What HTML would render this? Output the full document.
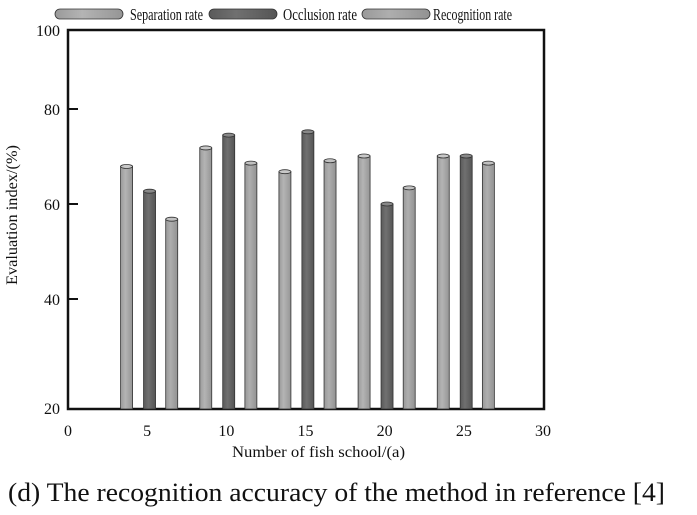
<!DOCTYPE html>
<html><head><meta charset="utf-8"><style>
body{margin:0;background:#fff;width:697px;height:510px;overflow:hidden}
svg text{font-family:"Liberation Serif",serif;fill:#111}
</style></head><body>
<svg id="chart" width="697" height="510">
<defs>
<linearGradient id="gl" x1="0" x2="1"><stop offset="0" stop-color="#9a9a9a"/><stop offset="0.4" stop-color="#b4b4b4"/><stop offset="1" stop-color="#959595"/></linearGradient>
<linearGradient id="gd" x1="0" x2="1"><stop offset="0" stop-color="#5a5a5a"/><stop offset="0.4" stop-color="#707070"/><stop offset="1" stop-color="#555"/></linearGradient>
<linearGradient id="gr" x1="0" x2="1"><stop offset="0" stop-color="#999"/><stop offset="0.4" stop-color="#aeaeae"/><stop offset="1" stop-color="#929292"/></linearGradient>
</defs>
<g id="legend"></g>
<g id="axes"></g>
<g id="bars"></g>
<text x="8" y="501" font-size="26" textLength="657" lengthAdjust="spacingAndGlyphs">(d) The recognition accuracy of the method in reference [4]</text>
</svg>
<script>
const categories=[5,10,15,20,25];
const separation=[67.9,71.8,66.8,70.1,70.1];
const occlusion=[62.7,74.5,75.2,60.0,70.1];
const recognition=[56.8,68.6,69.1,63.4,68.6];
const xTicks=[0,5,10,15,20,25,30];
const yTicks=[40,60,80];
const seriesNames=["Separation rate","Occlusion rate","Recognition rate"];
const NS="http://www.w3.org/2000/svg";
function X(v){return 68+v*(475/30);}
function Y(v){return 299-(v-40)*4.75;}
const base=409;
function mk(tag,attrs,parent,text){const e=document.createElementNS(NS,tag);for(const k in attrs)e.setAttribute(k,attrs[k]);if(text!==undefined)e.textContent=text;parent.appendChild(e);return e;}
const axes=document.getElementById('axes'),bars=document.getElementById('bars'),leg=document.getElementById('legend');
const box=mk('rect',{x:68,y:30,width:476,height:379,fill:'none',stroke:'#111','stroke-width':2.5},axes);


yTicks.forEach(v=>{
 const t=mk('line',{x1:68,x2:78,y1:Y(v),y2:Y(v),stroke:'#111','stroke-width':2},axes);
 
 
 const l=mk('text',{x:60,y:Y(v)+6,'text-anchor':'end','font-size':16},axes,String(v));
 
 
});
const l100=mk('text',{x:60,y:36,'text-anchor':'end','font-size':16},axes,'100');


const l20=mk('text',{x:60,y:414,'text-anchor':'end','font-size':16},axes,'20');


xTicks.forEach(v=>{
 const l=mk('text',{x:X(v),y:436,'text-anchor':'middle','font-size':16},axes,String(v));
 
 
});
const xt=mk('text',{x:232,y:457,'font-size':16,textLength:173,lengthAdjust:'spacingAndGlyphs'},axes,'Number of fish school/(a)');


const yt=mk('text',{x:0,y:0,'font-size':16,textLength:140,lengthAdjust:'spacingAndGlyphs',transform:'translate(17,285) rotate(-90)'},axes,'Evaluation index/(%)');


const series=[separation,occlusion,recognition];
const fills=['url(#gl)','url(#gd)','url(#gr)'];
const caps=['#c8c8c8','#888','#c0c0c0'];
const offs=[-1.3,0.15,1.55];
const bw=12;
series.forEach((arr,s)=>{
 arr.forEach((v,i)=>{
  const cx=X(categories[i]+offs[s]);
  const y=Y(v);
  const r=mk('rect',{x:cx-bw/2,y:y,width:bw,height:base-y,fill:fills[s],stroke:'#333','stroke-width':0.8},bars);
  
  
  const c=mk('ellipse',{cx:cx,cy:y,rx:bw/2,ry:2,fill:caps[s],stroke:'#333','stroke-width':0.8},bars);
  
  
 });
});
const swX=[55,209,362],swW=[68,68,68],txX=[130,283,433],txW=[73,74,79];
seriesNames.forEach((n,s)=>{
 const sw=mk('rect',{x:swX[s],y:9,width:swW[s],height:10,rx:5,fill:fills[s],stroke:'#333','stroke-width':0.8},leg);
 
 
 const t=mk('text',{x:txX[s],y:20,'font-size':17,textLength:txW[s],lengthAdjust:'spacingAndGlyphs'},leg,n);
 
 
});
</script>
</body></html>
